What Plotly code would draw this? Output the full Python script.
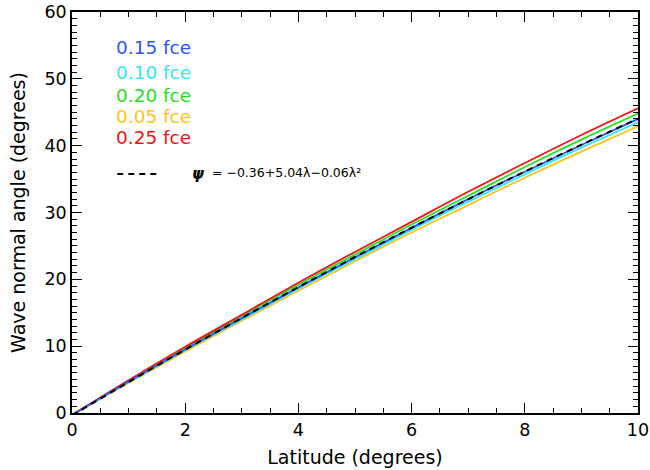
import plotly.graph_objects as go

# Latitude samples (degrees)
latitude = [0, 1, 2, 3, 4, 5, 6, 7, 8, 9, 10]

# Wave normal angle (degrees) for each wave frequency
angle_015 = [-0.3, 4.7, 9.5, 14.2, 18.8, 23.3, 27.7, 32.0, 36.1, 40.1, 44.0]
angle_010 = [-0.3, 4.6, 9.4, 14.0, 18.6, 23.0, 27.4, 31.6, 35.7, 39.7, 43.5]
angle_020 = [-0.3, 4.8, 9.7, 14.5, 19.2, 23.7, 28.2, 32.5, 36.8, 40.9, 44.8]
angle_005 = [-0.3, 4.5, 9.2, 13.8, 18.3, 22.7, 27.0, 31.1, 35.2, 39.1, 42.9]
angle_025 = [-0.3, 4.9, 9.9, 14.7, 19.5, 24.1, 28.6, 33.1, 37.4, 41.6, 45.6]

# Quadratic fit psi = -0.36 + 5.04*lambda - 0.06*lambda^2, tabulated
fit_angle = [-0.36, 4.62, 9.48, 14.22, 18.84, 23.34, 27.72, 31.98, 36.12, 40.14, 44.04]

labels = ["0.15 fce", "0.10 fce", "0.20 fce", "0.05 fce", "0.25 fce"]
colors = ["#2a55ff", "#33e6ff", "#22e022", "#ffc21a", "#f01414"]
series = [angle_015, angle_010, angle_020, angle_005, angle_025]

FONT = "DejaVu Sans"

fig = go.Figure()

# draw order: orange, cyan, green, red, blue, then the fit on top
for idx in [3, 1, 2, 4, 0]:
    fig.add_trace(go.Scatter(
        x=latitude, y=series[idx], mode="lines",
        line=dict(color=colors[idx], width=1.8, shape="spline"),
        showlegend=False, hoverinfo="skip"))

fig.add_trace(go.Scatter(
    x=latitude, y=fit_angle, mode="lines",
    line=dict(color="black", width=2, dash="6px,5px", shape="spline"),
    showlegend=False, hoverinfo="skip"))

# text legend in the upper left
legend_y = [0.912, 0.850, 0.793, 0.740, 0.688]
for lab, col, ly in zip(labels, colors, legend_y):
    fig.add_annotation(x=0.074, y=ly, xref="paper", yref="paper",
                       text=lab, showarrow=False, xanchor="left", yanchor="middle",
                       font=dict(family=FONT, size=18.5, color=col))

# fit key: dashed sample, psi symbol, then the expression
fig.add_shape(type="line", xref="paper", yref="paper",
              x0=0.08, x1=0.156, y0=0.596, y1=0.596,
              line=dict(color="black", width=2, dash="6px,5px"))
fig.add_annotation(x=0.209, y=0.597, xref="paper", yref="paper",
                   text="ψ", showarrow=False, xanchor="left", yanchor="middle",
                   font=dict(family=FONT, size=15, color="black", style="italic", weight="bold"))
fig.add_annotation(x=0.243, y=0.600, xref="paper", yref="paper",
                   text="= −0.36+5.04λ−0.06λ²",
                   showarrow=False, xanchor="left", yanchor="middle",
                   font=dict(family=FONT, size=12.5, color="black"))

axis_common = dict(
    showgrid=False, zeroline=False, showline=True, linecolor="black", linewidth=1.5,
    mirror="ticks", ticks="inside", ticklen=10, tickwidth=1.2, tickcolor="black",
    tickfont=dict(family=FONT, size=17.5, color="black"), automargin=False,
)

fig.update_xaxes(
    range=[0, 10], tick0=0, dtick=2,
    minor=dict(ticks="inside", ticklen=5, dtick=0.5, tickcolor="black", tickwidth=1),
    title=dict(text="Latitude (degrees)", font=dict(family=FONT, size=19, color="black"), standoff=12),
    **axis_common)
fig.update_yaxes(
    range=[0, 60], tick0=0, dtick=10,
    minor=dict(ticks="inside", ticklen=5, dtick=1, tickcolor="black", tickwidth=1),
    title=dict(text="Wave normal angle (degrees)", font=dict(family=FONT, size=19, color="black"), standoff=14),
    **axis_common)

fig.update_layout(
    width=650, height=470,
    margin=dict(l=72, r=12, t=12, b=57),
    plot_bgcolor="white", paper_bgcolor="white",
)

fig.write_html("out.html")
